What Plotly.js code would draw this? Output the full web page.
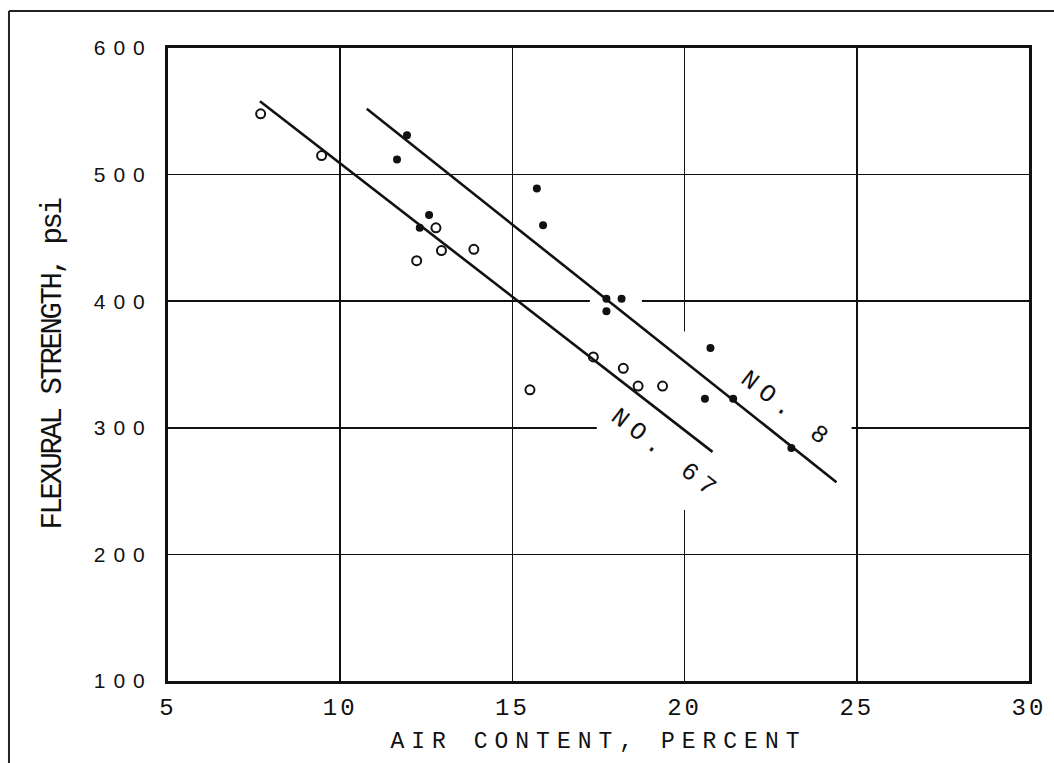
<!DOCTYPE html>
<html>
<head>
<meta charset="utf-8">
<script src="https://cdn.plot.ly/plotly-3.0.1.min.js"></script>
<style>
  html, body { margin: 0; padding: 0; background: #fff; }
  #chart { width: 1054px; height: 763px; }
  .xtick text { letter-spacing: 3px; }
  .ytick text { letter-spacing: 8px; }
  .xtitle { letter-spacing: 7px; }
  .ytitle { letter-spacing: -2.4px; }
  .annotation-text { letter-spacing: 7px; }
</style>
</head>
<body>
<div id="chart"></div>
<script>
// ---- data ----
const no67X = [7.69, 9.46, 12.22, 12.78, 12.94, 13.88, 15.51, 17.35, 18.22, 18.65, 19.36];
const no67Y = [548, 515, 432, 458, 440, 441, 330, 356, 347, 333, 333];

const no8X = [11.94, 11.65, 12.58, 12.31, 15.71, 15.89, 17.73, 18.17, 17.73, 20.75, 20.59, 21.41, 23.10];
const no8Y = [531, 512, 468, 458, 489, 460, 402, 402, 392, 363, 323, 323, 284];

const fit67X = [7.67, 20.81];
const fit67Y = [558, 281];
const fit8X = [10.77, 24.41];
const fit8Y = [552, 257];

const curveLabels = ["NO. 67", "NO. 8"];
const labelX = [19.45, 22.98];
const labelY = [279, 314];

const xTitle = "AIR CONTENT, PERCENT";
const yTitle = "FLEXURAL STRENGTH, psi";
const xTicks = [5, 10, 15, 20, 25, 30];
const yTicks = [100, 200, 300, 400, 500, 600];

// ---- styling ----
const ink = "#111";
const mono = "Liberation Mono, Courier New, monospace";
const traces = [
  { x: fit67X, y: fit67Y, mode: "lines", line: { color: ink, width: 2.6 }, hoverinfo: "skip", showlegend: false },
  { x: fit8X, y: fit8Y, mode: "lines", line: { color: ink, width: 2.6 }, hoverinfo: "skip", showlegend: false },
  { x: no67X, y: no67Y, mode: "markers", name: "NO. 67",
    marker: { symbol: "circle-open", size: 9, color: ink, line: { color: ink, width: 2 } }, showlegend: false },
  { x: no8X, y: no8Y, mode: "markers", name: "NO. 8",
    marker: { symbol: "circle", size: 8, color: ink }, showlegend: false }
];

const annotations = curveLabels.map((t, i) => ({
  x: labelX[i], y: labelY[i], xref: "x", yref: "y", text: t, showarrow: false,
  textangle: 38, xanchor: "center", yanchor: "middle",
  font: { family: mono, size: 25, color: "#111" }
}));

const shapes = [
  // gaps in the grid lines
  { type: "rect", xref: "x", yref: "y", x0: 17.45, x1: 24.85, y0: 296.5, y1: 303.5, fillcolor: "#fff", line: { width: 0 }, layer: "between" },
  { type: "rect", xref: "x", yref: "y", x0: 17.25, x1: 18.76, y0: 396.5, y1: 403.5, fillcolor: "#fff", line: { width: 0 }, layer: "between" },
  { type: "rect", xref: "x", yref: "y", x0: 19.85, x1: 20.15, y0: 235, y1: 376, fillcolor: "#fff", line: { width: 0 }, layer: "between" },
  // outer frame of the figure
  { type: "line", xref: "paper", yref: "paper", x0: -0.1847, x1: 1.04, y0: 1.0585, y1: 1.0585, line: { color: "#222", width: 2 } },
  { type: "line", xref: "paper", yref: "paper", x0: -0.1847, x1: -0.1847, y0: -0.14, y1: 1.0585, line: { color: "#222", width: 2 } }
];

const layout = {
  width: 1054, height: 763,
  margin: { l: 168, r: 25, t: 48, b: 82 },
  paper_bgcolor: "#fff", plot_bgcolor: "#fff",
  showlegend: false,
  xaxis: {
    range: [5, 30], tickvals: xTicks, ticktext: xTicks.map(String),
    showgrid: true, gridcolor: ink, gridwidth: 1.6, zeroline: false,
    showline: true, mirror: true, linecolor: ink, linewidth: 3,
    ticks: "", ticklabelstandoff: 2,
    tickfont: { family: mono, size: 24, color: "#111" },
    title: { text: xTitle, standoff: 12, font: { family: mono, size: 23, color: "#111" } }
  },
  yaxis: {
    range: [100, 600], tickvals: yTicks, ticktext: yTicks.map(String),
    showgrid: true, gridcolor: ink, gridwidth: 1.6, zeroline: false,
    showline: true, mirror: true, linecolor: ink, linewidth: 3,
    ticks: "", ticklabelstandoff: 8,
    tickfont: { family: "Liberation Sans, Arial, sans-serif", size: 21, color: "#111" },
    title: { text: yTitle, standoff: 24, font: { family: mono, size: 29, color: "#111" } }
  },
  annotations: annotations,
  shapes: shapes
};

Plotly.newPlot("chart", traces, layout, { staticPlot: true, displayModeBar: false });
</script>
</body>
</html>
